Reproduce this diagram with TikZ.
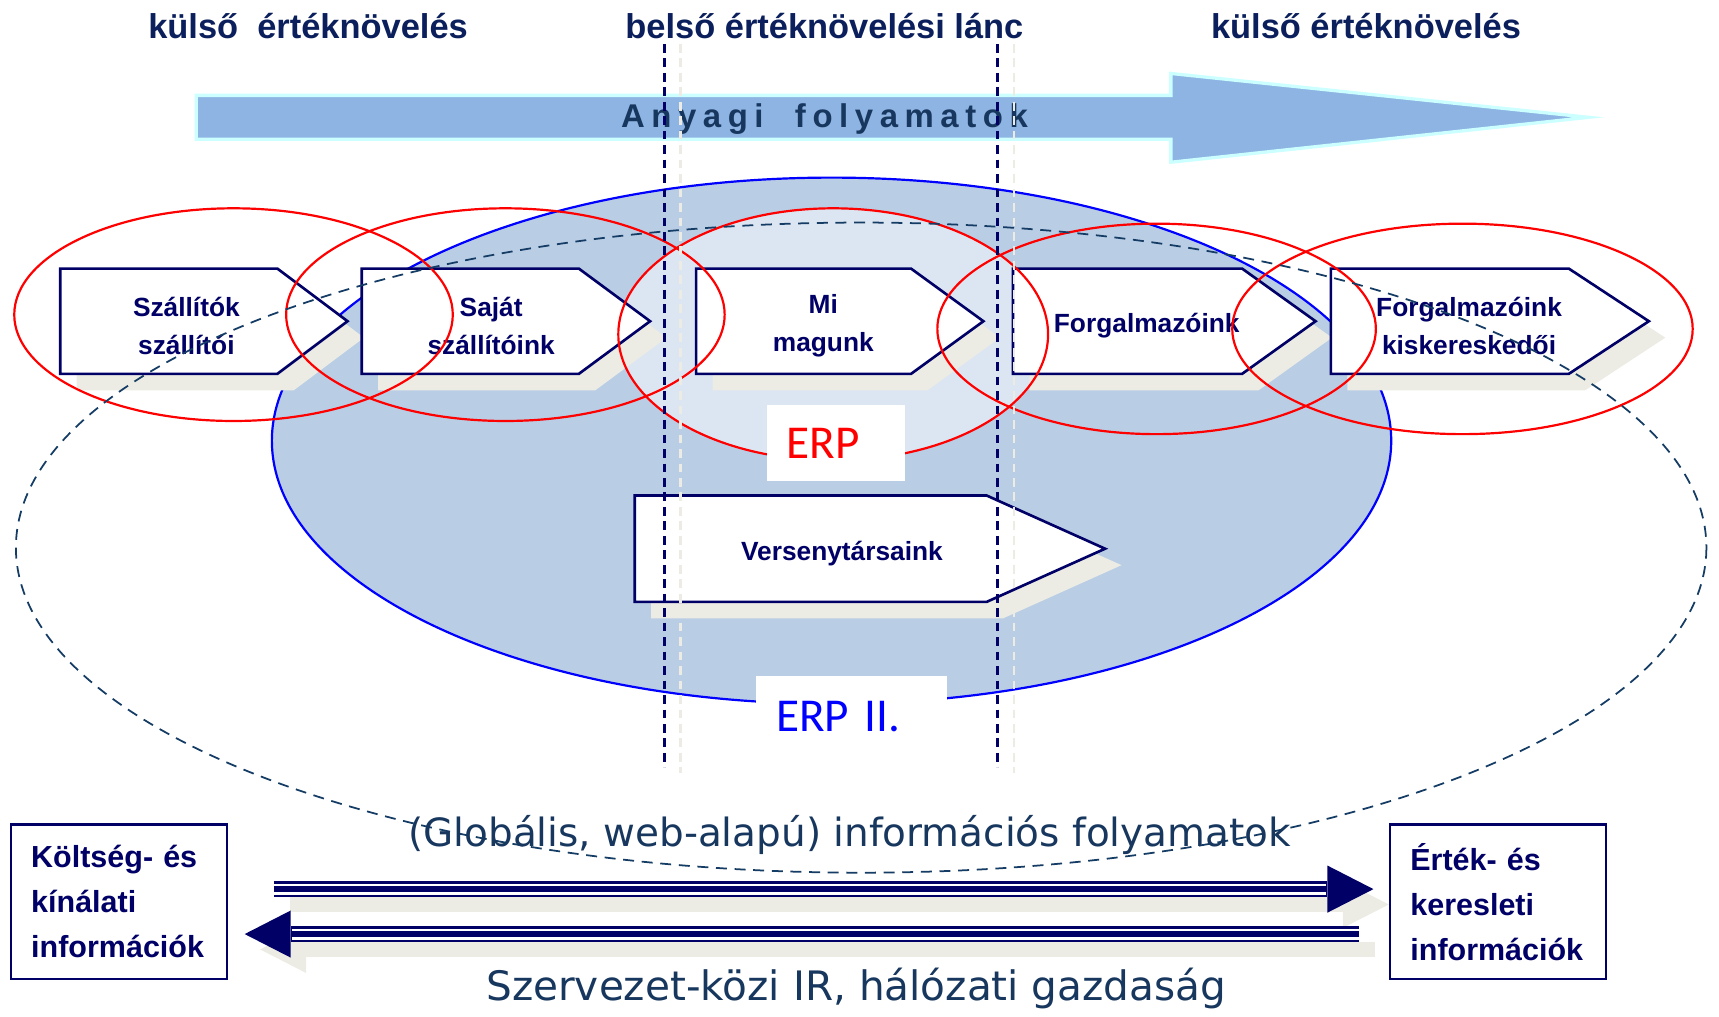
\documentclass[tikz,border=0pt]{standalone}
\usepackage{fontspec}
\setmainfont{Liberation Sans}
\newfontfamily\erpfont{Carlito}
\newfontfamily\handfont{DejaVu Sans}
\usepackage{tikz}
\usetikzlibrary{arrows.meta,positioning,calc}
\definecolor{navy}{HTML}{000066}
\definecolor{titlenavy}{HTML}{0B1F5C}
\definecolor{flowblue}{HTML}{8EB4E3}
\definecolor{flowedge}{HTML}{CCFFFF}
\definecolor{flowtext}{HTML}{17375E}
\definecolor{erpiifill}{HTML}{B9CDE5}
\definecolor{erpfill}{HTML}{DCE6F2}
\definecolor{stepshade}{HTML}{ECECE4}
\definecolor{webline}{HTML}{143C64}
\definecolor{handtext}{HTML}{17375E}
% one link of the value chain: name, left, body end, tip, top, bottom, text x, text
\newcommand{\chainstep}[8]{%
  \fill[stepshadow] (#2+15,#5+15) -- (#3+15,#5+15) -- (#4+15,{(#5+#6)/2+15}) -- (#3+15,#6+15) -- (#2+15,#6+15) -- cycle;
  \draw[stepbox] (#2,#5) -- (#3,#5) -- (#4,{(#5+#6)/2}) -- (#3,#6) -- (#2,#6) -- cycle;
  \node[steplabel] (#1) at (#7,{(#5+#6)/2+4}) {#8};
}

\begin{document}
\begin{tikzpicture}[
    x=0.5pt, y=-0.5pt,
    titlelabel/.style={font=\bfseries\fontsize{15.7}{18}\selectfont, text=titlenavy},
    flowarrow/.style={fill=flowblue, draw=flowedge, line width=1.5pt},
    flowlabel/.style={font=\fontsize{15}{17}\bfseries\addfontfeature{LetterSpace=20}, text=flowtext},
    erpii_ring/.style={fill=erpiifill, draw=blue, line width=1pt},
    stepshadow/.style={fill=stepshade},
    stepbox/.style={fill=white, draw=navy, line width=1.2pt},
    steplabel/.style={font=\bfseries\fontsize{12}{17.25}\selectfont, text=navy, align=center},
    value_ring/.style={draw=red, line width=1pt},
    web_ring/.style={draw=webline, line width=0.8pt, dash pattern=on 5pt off 3.5pt},
    chainsep/.style={draw=navy, line width=1.2pt, dash pattern=on 4pt off 2.6pt},
    chainsep_shade/.style={draw=stepshade, line width=1.2pt, dash pattern=on 4pt off 2.6pt},
    erp_box/.style={fill=white, inner xsep=9pt, inner ysep=0pt, text width=45pt, align=left,
      minimum height=35pt, font=\erpfont\fontsize{21.5}{24}\selectfont, text=red},
    erpii_box/.style={erp_box, text width=69pt, minimum height=36.5pt, text=blue},
    infobox/.style={draw=navy, line width=1.2pt, fill=white, minimum width=98.5pt,
      minimum height=70.5pt, text width=80pt, align=left,
      font=\bfseries\fontsize{13.9}{20.5}\selectfont, text=navy},
    infoarrow/.style={draw=navy, line width=7pt,
      -{Triangle[length=21pt, width=21.5pt, line width=0pt]},
      postaction={draw=white, line width=5pt, arrows=-, shorten >=21.5pt},
      postaction={draw=navy, line width=3pt, arrows=-, shorten >=21.5pt}},
    infoshadow/.style={draw=stepshade, line width=7pt,
      -{Triangle[length=21pt, width=21.5pt, line width=0pt]}},
    handlabel/.style={font=\handfont\fontsize{17.75}{20}\selectfont, text=handtext}
]
\useasboundingbox (0,0) rectangle (1568,927);

% --- MATERIAL FLOW ---
\draw[flowarrow] (179,87) -- (1068,87) -- (1068,67) -- (1449,107) -- (1068,148)
  -- (1068,127) -- (179,127) -- cycle;
\node[flowlabel] (anyagi) at (752,109) {Anyagi\ \ folyamatok};

% --- ERP II AND ERP AREAS ---
\draw[erpii_ring] (758.5,402) ellipse [x radius=510.5, y radius=240];
\fill[erpfill] (760,305) ellipse [x radius=196, y radius=115];

% --- VALUE CHAIN ---
\chainstep{szallitoi}{55}{253}{317}{245}{341}{170}{Szállítók\\szállítói}
\chainstep{sajat}{330}{528}{593}{245}{341}{448}{Saját\\szállítóink}
\chainstep{mimagunk}{635}{831}{897}{245}{341}{751}{Mi\\magunk}
\chainstep{forgalmazoink}{924}{1133}{1200}{245}{341}{1046}{Forgalmazóink}
\chainstep{kiskereskedoi}{1214}{1431}{1504}{245}{341}{1340}{Forgalmazóink\\kiskereskedői}
\chainstep{versenytarsak}{579}{900}{1008}{452}{549}{768}{Versenytársaink}

% value adding rings
\draw[value_ring] (213,287) ellipse [x radius=200, y radius=97];
\draw[value_ring] (461,287) ellipse [x radius=200, y radius=97];
\draw[value_ring] (760,305) ellipse [x radius=196, y radius=115];
\draw[value_ring] (1055,300) ellipse [x radius=200, y radius=96];
\draw[value_ring] (1334,300) ellipse [x radius=210, y radius=96];

% global, web based information
\draw[web_ring] (785.5,499.5) ellipse [x radius=771, y radius=296.5];

% borders of the inner chain
\draw[chainsep_shade] (621,40) -- (621,705);
\draw[chainsep_shade] (925,40) -- (925,705);
\draw[chainsep] (606,40) -- (606,700);
\draw[chainsep] (910,40) -- (910,700);

\node[erp_box] (erp) at (762.5,404) {ERP};
\node[erpii_box] (erpii) at (777,653.5) {ERP II.};

% --- HEADINGS ---
\node[titlelabel] (kulso_bal) at (281,24) {külső\ \ értéknövelés};
\node[titlelabel] (belso) at (752,24) {belső értéknövelési lánc};
\node[titlelabel] (kulso_jobb) at (1246,24) {külső értéknövelés};

% --- INFORMATION FLOW ---
\node[infobox] (kinalat) at (108.5,822.5) {Költség- és\\kínálati\\információk};
\node[infobox] (kereslet) at (1366.5,822.5) {Érték- és\\keresleti\\információk};

\draw[infoshadow, transform canvas={shift={(7pt,-7pt)}}] ([xshift=21pt,yshift=5.75pt]kinalat.east) -- ([xshift=-7pt,yshift=5.75pt]kereslet.west);
\draw[infoshadow, transform canvas={shift={(7pt,-7pt)}}] ([xshift=-13.5pt,yshift=-14.75pt]kereslet.west) -- ([xshift=7.5pt,yshift=-14.75pt]kinalat.east);
\draw[infoarrow] ([xshift=21pt,yshift=5.75pt]kinalat.east) -- ([xshift=-7pt,yshift=5.75pt]kereslet.west);
\draw[infoarrow] ([xshift=-13.5pt,yshift=-14.75pt]kereslet.west) -- ([xshift=7.5pt,yshift=-14.75pt]kinalat.east);

\node[handlabel] (webinfo) at (775,762) {(Globális, web-alapú) információs folyamatok};
\node[handlabel, font=\handfont\fontsize{18.5}{21}\selectfont] (halozat) at (781,902) {Szervezet-közi IR, hálózati gazdaság};

\end{tikzpicture}
\end{document}
